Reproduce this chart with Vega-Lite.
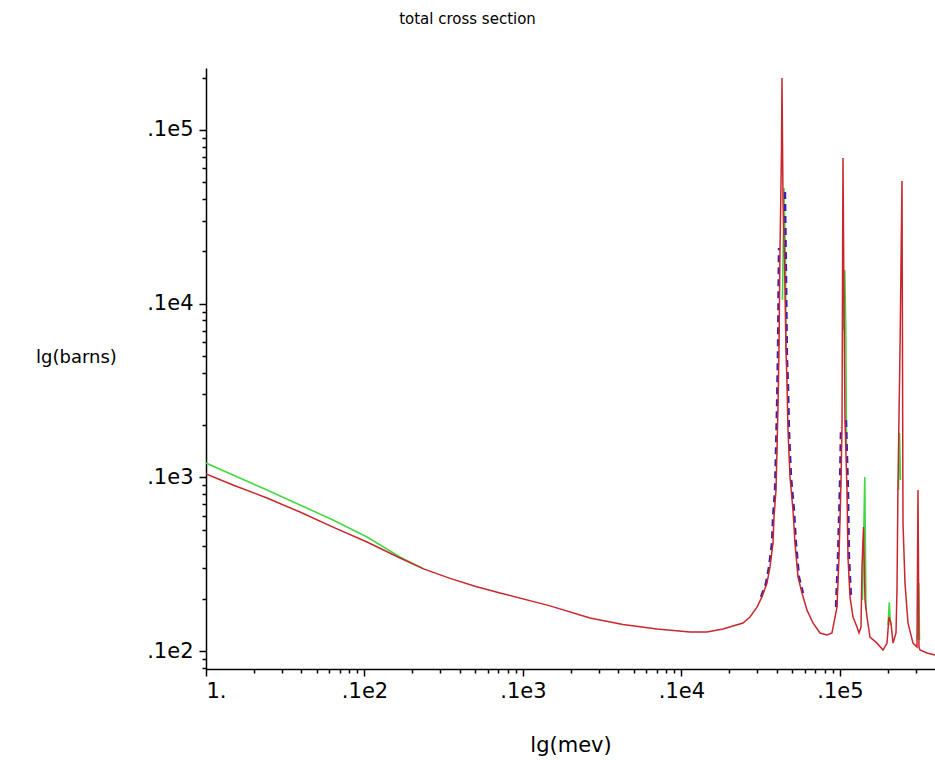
{
  "$schema": "https://vega.github.io/schema/vega-lite/v6.json",
  "autosize": {"type": "none"},
  "padding": {"left": 206, "top": 68, "right": 0, "bottom": 91},
  "width": 729,
  "height": 601,
  "background": "white",
  "title": {"text": "total cross section", "frame": "group", "anchor": "middle", "dx": -103, "offset": 40, "fontSize": 15, "fontWeight": "normal", "font": "DejaVu Sans", "color": "black"},
  "config": {
    "view": {"stroke": null},
    "axis": {"domainColor": "black", "domainWidth": 1.5, "tickColor": "black", "tickWidth": 1.5, "labelFont": "DejaVu Sans", "labelFontSize": 21, "labelColor": "black", "titleFont": "DejaVu Sans", "titleFontSize": 21, "titleFontWeight": "normal", "titleColor": "black", "grid": false}
  },
  "datasets": {
    "curves": [
      {"series": "red", "seg": "r", "E": 1, "s": 104.5},
      {"series": "red", "seg": "r", "E": 1.48, "s": 90.3},
      {"series": "red", "seg": "r", "E": 2.426, "s": 76.0},
      {"series": "red", "seg": "r", "E": 3.918, "s": 63.1},
      {"series": "red", "seg": "r", "E": 6.327, "s": 51.7},
      {"series": "red", "seg": "r", "E": 10.37, "s": 42.4},
      {"series": "red", "seg": "r", "E": 16.75, "s": 34.3},
      {"series": "red", "seg": "r", "E": 23.6, "s": 29.7},
      {"series": "red", "seg": "r", "E": 34.63, "s": 26.2},
      {"series": "red", "seg": "r", "E": 49.8, "s": 23.6},
      {"series": "red", "seg": "r", "E": 71.6, "s": 21.6},
      {"series": "red", "seg": "r", "E": 148.0, "s": 18.2},
      {"series": "red", "seg": "r", "E": 264.7, "s": 15.5},
      {"series": "red", "seg": "r", "E": 427.4, "s": 14.2},
      {"series": "red", "seg": "r", "E": 700.5, "s": 13.4},
      {"series": "red", "seg": "r", "E": 1131, "s": 12.86},
      {"series": "red", "seg": "r", "E": 1448, "s": 12.86},
      {"series": "red", "seg": "r", "E": 1827, "s": 13.4},
      {"series": "red", "seg": "r", "E": 2113, "s": 13.93},
      {"series": "red", "seg": "r", "E": 2444, "s": 14.5},
      {"series": "red", "seg": "r", "E": 2705, "s": 15.7},
      {"series": "red", "seg": "r", "E": 2994, "s": 17.9},
      {"series": "red", "seg": "r", "E": 3219, "s": 20.5},
      {"series": "red", "seg": "r", "E": 3463, "s": 24.6},
      {"series": "red", "seg": "r", "E": 3617, "s": 30.5},
      {"series": "red", "seg": "r", "E": 3779, "s": 41.8},
      {"series": "red", "seg": "r", "E": 3834, "s": 59.1},
      {"series": "red", "seg": "r", "E": 3947, "s": 84.5},
      {"series": "red", "seg": "r", "E": 4005, "s": 143.6},
      {"series": "red", "seg": "r", "E": 4063, "s": 254},
      {"series": "red", "seg": "r", "E": 4122, "s": 540},
      {"series": "red", "seg": "r", "E": 4183, "s": 2035},
      {"series": "red", "seg": "r", "E": 4275, "s": 7661},
      {"series": "red", "seg": "r", "E": 4306, "s": 19900},
      {"series": "red", "seg": "r", "E": 4369, "s": 3949},
      {"series": "red", "seg": "r", "E": 4465, "s": 1783},
      {"series": "red", "seg": "r", "E": 4564, "s": 540},
      {"series": "red", "seg": "r", "E": 4631, "s": 349},
      {"series": "red", "seg": "r", "E": 4698, "s": 187.3},
      {"series": "red", "seg": "r", "E": 4837, "s": 100.4},
      {"series": "red", "seg": "r", "E": 5052, "s": 64.8},
      {"series": "red", "seg": "r", "E": 5201, "s": 41.8},
      {"series": "red", "seg": "r", "E": 5433, "s": 26.7},
      {"series": "red", "seg": "r", "E": 5759, "s": 21.6},
      {"series": "red", "seg": "r", "E": 6192, "s": 17.2},
      {"series": "red", "seg": "r", "E": 6755, "s": 14.5},
      {"series": "red", "seg": "r", "E": 7478, "s": 12.7},
      {"series": "red", "seg": "r", "E": 8279, "s": 12.36},
      {"series": "red", "seg": "r", "E": 8900, "s": 12.7},
      {"series": "red", "seg": "r", "E": 9574, "s": 17.9},
      {"series": "red", "seg": "r", "E": 9856, "s": 34.8},
      {"series": "red", "seg": "r", "E": 10146, "s": 92.7},
      {"series": "red", "seg": "r", "E": 10295, "s": 194.9},
      {"series": "red", "seg": "r", "E": 10445, "s": 6890},
      {"series": "red", "seg": "r", "E": 10598, "s": 1049},
      {"series": "red", "seg": "r", "E": 10753, "s": 213.8},
      {"series": "red", "seg": "r", "E": 11071, "s": 84.5},
      {"series": "red", "seg": "r", "E": 11233, "s": 34.8},
      {"series": "red", "seg": "r", "E": 11565, "s": 20.5},
      {"series": "red", "seg": "r", "E": 12080, "s": 15.7},
      {"series": "red", "seg": "r", "E": 12801, "s": 13.74},
      {"series": "red", "seg": "r", "E": 13179, "s": 12.7},
      {"series": "red", "seg": "r", "E": 13568, "s": 13.74},
      {"series": "red", "seg": "r", "E": 13766, "s": 30.5},
      {"series": "red", "seg": "r", "E": 14069, "s": 51.7},
      {"series": "red", "seg": "r", "E": 14379, "s": 19.7},
      {"series": "red", "seg": "r", "E": 14803, "s": 15.7},
      {"series": "red", "seg": "r", "E": 15463, "s": 12.04},
      {"series": "red", "seg": "r", "E": 17120, "s": 11.1},
      {"series": "red", "seg": "r", "E": 18671, "s": 10.13},
      {"series": "red", "seg": "r", "E": 19796, "s": 11.1},
      {"series": "red", "seg": "r", "E": 20380, "s": 15.7},
      {"series": "red", "seg": "r", "E": 20981, "s": 14.5},
      {"series": "red", "seg": "r", "E": 21600, "s": 11.1},
      {"series": "red", "seg": "r", "E": 22563, "s": 12.7},
      {"series": "red", "seg": "r", "E": 22893, "s": 22.5},
      {"series": "red", "seg": "r", "E": 23227, "s": 92.7},
      {"series": "red", "seg": "r", "E": 23912, "s": 540},
      {"series": "red", "seg": "r", "E": 24617, "s": 5080},
      {"series": "red", "seg": "r", "E": 24977, "s": 54.6},
      {"series": "red", "seg": "r", "E": 25712, "s": 24.6},
      {"series": "red", "seg": "r", "E": 26857, "s": 14.5},
      {"series": "red", "seg": "r", "E": 28874, "s": 11.1},
      {"series": "red", "seg": "r", "E": 30602, "s": 10.54},
      {"series": "red", "seg": "r", "E": 31050, "s": 84.5},
      {"series": "red", "seg": "r", "E": 31503, "s": 10.54},
      {"series": "red", "seg": "r", "E": 31963, "s": 10.13},
      {"series": "red", "seg": "r", "E": 35387, "s": 9.74},
      {"series": "red", "seg": "r", "E": 39754, "s": 9.48},

      {"series": "green", "seg": "g0", "E": 1, "s": 120.9},
      {"series": "green", "seg": "g0", "E": 1.48, "s": 103.1},
      {"series": "green", "seg": "g0", "E": 2.426, "s": 84.5},
      {"series": "green", "seg": "g0", "E": 3.918, "s": 69.3},
      {"series": "green", "seg": "g0", "E": 6.327, "s": 56.8},
      {"series": "green", "seg": "g0", "E": 10.37, "s": 45.3},
      {"series": "green", "seg": "g0", "E": 16.75, "s": 34.8},
      {"series": "green", "seg": "g0", "E": 23.6, "s": 29.7},
      {"series": "green", "seg": "g1", "E": 4337, "s": 1049},
      {"series": "green", "seg": "g1", "E": 4433, "s": 4630},
      {"series": "green", "seg": "g1", "E": 4531, "s": 1783},
      {"series": "green", "seg": "g1", "E": 4564, "s": 540},
      {"series": "green", "seg": "g2", "E": 10522, "s": 704.7},
      {"series": "green", "seg": "g2", "E": 10722, "s": 1561},
      {"series": "green", "seg": "g2", "E": 10879, "s": 704.7},
      {"series": "green", "seg": "g2", "E": 10991, "s": 143.6},
      {"series": "green", "seg": "g3", "E": 13867, "s": 19.7},
      {"series": "green", "seg": "g3", "E": 14337, "s": 100.4},
      {"series": "green", "seg": "g3", "E": 14588, "s": 17.2},
      {"series": "green", "seg": "g4", "E": 20087, "s": 14.1},
      {"series": "green", "seg": "g4", "E": 20470, "s": 19.1},
      {"series": "green", "seg": "g4", "E": 20829, "s": 14.1},
      {"series": "green", "seg": "g5", "E": 23396, "s": 84.5},
      {"series": "green", "seg": "g5", "E": 23739, "s": 179.9},
      {"series": "green", "seg": "g5", "E": 24086, "s": 96.5},
      {"series": "green", "seg": "g6", "E": 30825, "s": 11.57},
      {"series": "green", "seg": "g6", "E": 31414, "s": 24.6},
      {"series": "green", "seg": "g6", "E": 31734, "s": 11.57},

      {"series": "blue", "seg": "b1", "E": 3174, "s": 20.5},
      {"series": "blue", "seg": "b1", "E": 3413, "s": 24.6},
      {"series": "blue", "seg": "b1", "E": 3565, "s": 30.5},
      {"series": "blue", "seg": "b1", "E": 3724, "s": 41.8},
      {"series": "blue", "seg": "b1", "E": 3779, "s": 59.1},
      {"series": "blue", "seg": "b1", "E": 3890, "s": 84.5},
      {"series": "blue", "seg": "b1", "E": 3947, "s": 143.6},
      {"series": "blue", "seg": "b1", "E": 4005, "s": 254},
      {"series": "blue", "seg": "b1", "E": 4063, "s": 540},
      {"series": "blue", "seg": "b1", "E": 4122, "s": 2090},
      {"series": "blue", "seg": "b2", "E": 4498, "s": 4390},
      {"series": "blue", "seg": "b2", "E": 4564, "s": 1500},
      {"series": "blue", "seg": "b2", "E": 4631, "s": 473.5},
      {"series": "blue", "seg": "b2", "E": 4698, "s": 349},
      {"series": "blue", "seg": "b2", "E": 4767, "s": 187.3},
      {"series": "blue", "seg": "b2", "E": 4908, "s": 100.4},
      {"series": "blue", "seg": "b2", "E": 5126, "s": 64.8},
      {"series": "blue", "seg": "b2", "E": 5277, "s": 41.8},
      {"series": "blue", "seg": "b2", "E": 5512, "s": 26.7},
      {"series": "blue", "seg": "b2", "E": 5843, "s": 21.6},
      {"series": "blue", "seg": "b3", "E": 9435, "s": 17.9},
      {"series": "blue", "seg": "b3", "E": 9714, "s": 34.8},
      {"series": "blue", "seg": "b3", "E": 10000, "s": 92.7},
      {"series": "blue", "seg": "b3", "E": 10146, "s": 194.9},
      {"series": "blue", "seg": "b4", "E": 10911, "s": 213.8},
      {"series": "blue", "seg": "b4", "E": 11233, "s": 84.5},
      {"series": "blue", "seg": "b4", "E": 11398, "s": 34.8},
      {"series": "blue", "seg": "b4", "E": 11734, "s": 20.5}
    ]
  },
  "data": {"name": "curves"},
  "encoding": {
    "x": {
      "field": "E", "type": "quantitative",
      "scale": {"type": "log", "domain": [1, 39760], "nice": false},
      "axis": {
        "title": "lg(mev)", "titleX": 364.5, "titleY": 76, "titleBaseline": "middle", "titleAlign": "center",
        "values": [1,2,3,4,5,6,7,8,9,10,20,30,40,50,60,70,80,90,100,200,300,400,500,600,700,800,900,1000,2000,3000,4000,5000,6000,7000,8000,9000,10000,20000,30000],
        "labelExpr": "abs(log(datum.value)/LN10 - round(log(datum.value)/LN10)) < 0.001 ? (datum.value == 1 ? '1.' : '.1e' + round(log(datum.value)/LN10 + 1)) : ''",
        "tickSize": {"condition": {"test": "abs(log(datum.value)/LN10 - round(log(datum.value)/LN10)) < 0.001", "value": 7}, "value": 4},
        "labelPadding": 4, "labelOverlap": false, "labelFlush": true
      }
    },
    "y": {
      "field": "s", "type": "quantitative",
      "scale": {"type": "log", "domain": [7.88, 22720], "nice": false},
      "axis": {
        "title": "lg(barns)", "titleAngle": 0, "titleX": -130, "titleY": 289, "titleAlign": "center", "titleBaseline": "middle", "titleFontSize": 18,
        "values": [8,9,10,20,30,40,50,60,70,80,90,100,200,300,400,500,600,700,800,900,1000,2000,3000,4000,5000,6000,7000,8000,9000,10000,20000],
        "labelExpr": "abs(log(datum.value)/LN10 - round(log(datum.value)/LN10)) < 0.001 ? '.1e' + round(log(datum.value)/LN10 + 1) : ''",
        "tickSize": {"condition": {"test": "abs(log(datum.value)/LN10 - round(log(datum.value)/LN10)) < 0.001", "value": 7}, "value": 4},
        "labelPadding": 6, "labelOverlap": false, "labelFlush": false
      }
    },
    "detail": {"field": "seg"}
  },
  "layer": [
    {"transform": [{"filter": "datum.series == 'green'"}], "mark": {"type": "line", "color": "#45d845", "strokeWidth": 1.6, "clip": true}},
    {"transform": [{"filter": "datum.series == 'blue'"}], "mark": {"type": "line", "color": "#3a1fb0", "strokeWidth": 2.4, "strokeDash": [7, 5], "clip": true}},
    {"transform": [{"filter": "datum.series == 'red'"}], "mark": {"type": "line", "color": "#c8282d", "strokeWidth": 1.5, "clip": true}}
  ]
}
